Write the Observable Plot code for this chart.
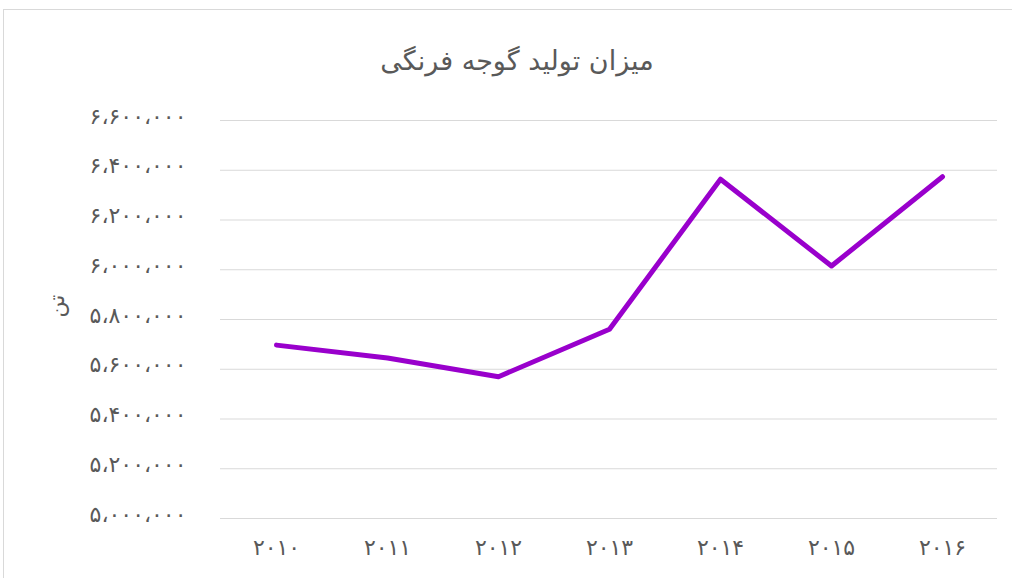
<!DOCTYPE html>
<html>
<head>
<meta charset="utf-8">
<script src="https://cdn.jsdelivr.net/npm/d3@7"></script>
<script src="https://cdn.jsdelivr.net/npm/@observablehq/plot@0.6"></script>
<style>
  html, body { margin: 0; padding: 0; background: #fff; overflow: hidden; width: 1012px; height: 578px; }
  #wrap { position: relative; width: 1012px; height: 578px; }
  #border { position: absolute; left: 3px; top: 9px; width: 1100px; height: 700px; border: 1px solid #d9d9d9; box-sizing: border-box; }
  #title { position: absolute; left: 0; width: 1034px; top: 45px; text-align: center; font-family: "DejaVu Sans", sans-serif; font-size: 27px; color: #595959; direction: rtl; line-height: 1.2; }
  #chart { position: absolute; left: 0; top: 0; }
</style>
</head>
<body>
<div id="wrap">
  <div id="border"></div>
  <div id="chart"></div>
  <div id="title">میزان تولید گوجه فرنگی</div>
</div>
<script>
const years = ["2010", "2011", "2012", "2013", "2014", "2015", "2016"];
const production = [5697000, 5645000, 5570000, 5761000, 6364000, 6015000, 6374000];
const yTicks = [5000000, 5200000, 5400000, 5600000, 5800000, 6000000, 6200000, 6400000, 6600000];
const yTitle = "تن";

const fa = s => String(s).replace(/[0-9]/g, d => "۰۱۲۳۴۵۶۷۸۹"[+d]);
const fmtY = v => fa(d3.format(",")(v)).replace(/,/g, "،");

const data = years.map((y, i) => ({year: y, value: production[i]}));

const chart = Plot.plot({
  width: 1012,
  height: 578,
  marginLeft: 220,
  marginRight: 15,
  marginTop: 120,
  marginBottom: 60,
  style: {fontFamily: "DejaVu Sans, sans-serif", color: "#595959", background: "transparent"},
  x: {type: "point", domain: years, padding: 0.5, label: null},
  y: {domain: [5000000, 6600000], ticks: yTicks, label: null},
  marks: [
    Plot.gridY(yTicks, {stroke: "#d9d9d9", strokeOpacity: 1, strokeWidth: 1}),
    Plot.axisY(yTicks, {tickSize: 0, tickPadding: 34, tickFormat: fmtY, fontSize: 22, dy: -4, fill: "#595959", label: null}),
    Plot.axisX({tickSize: 0, tickPadding: 21, tickFormat: fa, fontSize: 22, fill: "#595959", label: null}),
    Plot.line(data, {x: "year", y: "value", stroke: "#9900cc", strokeWidth: 5, strokeLinecap: "round", strokeLinejoin: "round"}),
    Plot.text([yTitle], {frameAnchor: "left", dx: -164, dy: -2, rotate: -90, fontSize: 22, fill: "#595959"})
  ]
});
document.getElementById("chart").appendChild(chart);
</script>
</body>
</html>
